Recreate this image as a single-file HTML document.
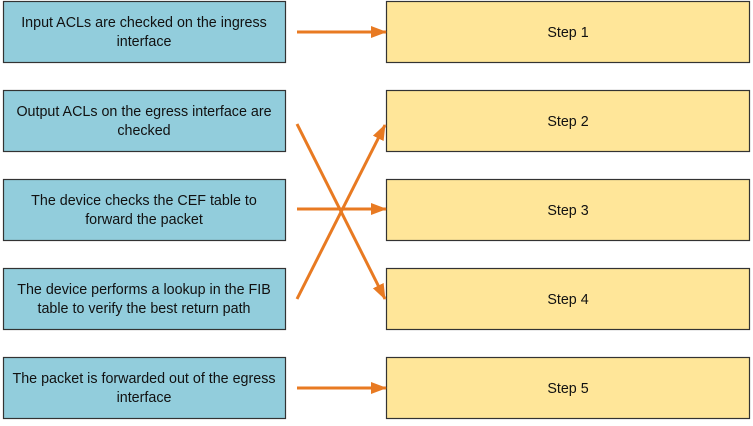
<!DOCTYPE html>
<html><head><style>
body{margin:0;width:753px;height:421px;background:#fff;overflow:hidden;font-family:"Liberation Sans",sans-serif}
</style></head><body>
<svg width="753" height="421" xmlns="http://www.w3.org/2000/svg" font-family="Liberation Sans, sans-serif" font-size="14.3">
<defs><marker id="a" markerWidth="16" markerHeight="12" refX="15" refY="6" orient="auto" markerUnits="userSpaceOnUse"><path d="M0,0 L16,6 L0,12 z" fill="#E87A22"/></marker></defs>
<g stroke="#333" stroke-width="1.2">
<rect x="3.5" y="1.5" width="282" height="61" fill="#92CDDC"/>
<rect x="3.5" y="90.5" width="282" height="61" fill="#92CDDC"/>
<rect x="3.5" y="179.5" width="282" height="61" fill="#92CDDC"/>
<rect x="3.5" y="268.5" width="282" height="61" fill="#92CDDC"/>
<rect x="3.5" y="357.5" width="282" height="61" fill="#92CDDC"/>
<rect x="386.5" y="1.5" width="363" height="61" fill="#FFE699"/>
<rect x="386.5" y="90.5" width="363" height="61" fill="#FFE699"/>
<rect x="386.5" y="179.5" width="363" height="61" fill="#FFE699"/>
<rect x="386.5" y="268.5" width="363" height="61" fill="#FFE699"/>
<rect x="386.5" y="357.5" width="363" height="61" fill="#FFE699"/>
</g>
<g stroke="#E87A22" stroke-width="3" marker-end="url(#a)">
<line x1="297" y1="32" x2="386" y2="32"/>
<line x1="297" y1="124" x2="385" y2="299"/>
<line x1="297" y1="299" x2="385" y2="125"/>
<line x1="297" y1="209" x2="386" y2="209"/>
<line x1="297" y1="388" x2="386" y2="388"/>
</g>
<g fill="#111" text-anchor="middle">
<text x="144" y="27">Input ACLs are checked on the ingress</text>
<text x="144" y="46">interface</text>
<text x="144" y="116">Output ACLs on the egress interface are</text>
<text x="144" y="135">checked</text>
<text x="144" y="205">The device checks the CEF table to</text>
<text x="144" y="224">forward the packet</text>
<text x="144" y="294">The device performs a lookup in the FIB</text>
<text x="144" y="313">table to verify the best return path</text>
<text x="144" y="383">The packet is forwarded out of the egress</text>
<text x="144" y="402">interface</text>
<text x="568" y="37">Step 1</text>
<text x="568" y="126">Step 2</text>
<text x="568" y="215">Step 3</text>
<text x="568" y="304">Step 4</text>
<text x="568" y="393">Step 5</text>
</g>
</svg>
</body></html>
